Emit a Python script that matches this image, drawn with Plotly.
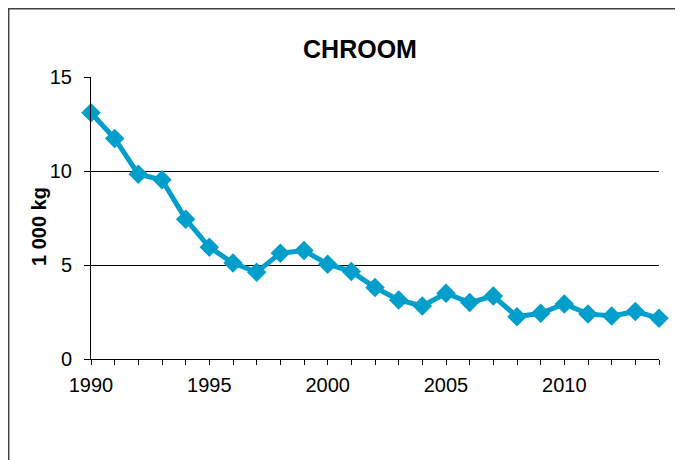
import plotly.graph_objects as go

years = list(range(1990, 2015))
chroom = [13.1, 11.73, 9.83, 9.53, 7.44, 5.95, 5.1, 4.62, 5.63, 5.77, 5.04, 4.66,
          3.8, 3.14, 2.82, 3.5, 3.0, 3.35, 2.25, 2.43, 2.93, 2.4, 2.29, 2.52, 2.17]

blue = "#009FCB"
font = "Liberation Sans, Arial, sans-serif"

# page puts the figure 8px in from the corner
W, H = 675, 452
L, T, R, B = 83, 69, 24, 101
pw, ph = W - L - R, H - T - B

fig = go.Figure()
fig.add_trace(go.Scatter(
    x=years, y=chroom, mode="lines+markers",
    line=dict(color=blue, width=5),
    marker=dict(symbol="diamond", size=15, color=blue),
    cliponaxis=False, showlegend=False,
))

# white card with dark border on grey page
fig.add_shape(type="rect", xref="paper", yref="paper",
              x0=(0.7 - L) / pw, x1=(670 - L) / pw,
              y0=(T + ph - 470) / ph, y1=(T + ph - 0.7) / ph,
              fillcolor="white", line=dict(color="#404040", width=1.5),
              layer="below")

# y axis title as annotation so it can sit closer to the labels
fig.add_annotation(text="<b>1 000 kg</b>", textangle=-90, showarrow=False,
                   xref="paper", yref="paper",
                   x=(31 - L) / pw, y=(T + ph - 219) / ph,
                   xanchor="center", yanchor="middle",
                   font=dict(size=20, color="black"))

fig.update_layout(
    width=W, height=H,
    margin=dict(l=L, r=R, t=T, b=B),
    paper_bgcolor="#ececec", plot_bgcolor="rgba(0,0,0,0)",
    font=dict(family=font, size=20, color="black"),
    title=dict(text="<b>CHROOM</b>", font=dict(size=25, color="black"),
               x=352 / W, xref="container", xanchor="center",
               y=1 - 41 / H, yref="container", yanchor="middle"),
)
fig.update_xaxes(
    range=[1990, 2014], tickmode="linear", tick0=1990, dtick=5,
    showgrid=False, showline=True, linecolor="black", linewidth=1,
    ticks="outside", ticklen=5, tickcolor="black", ticklabelstandoff=3,
    minor=dict(dtick=1, ticks="outside", ticklen=5, tickcolor="black"),
    zeroline=False,
)
fig.update_yaxes(
    range=[0, 15], tickmode="linear", tick0=0, dtick=5,
    showgrid=True, gridcolor="black", gridwidth=1,
    showline=True, linecolor="black", linewidth=1,
    ticks="outside", ticklen=6, tickcolor="black", ticklabelstandoff=8,
    zeroline=False,
)

fig.write_html("out.html")
